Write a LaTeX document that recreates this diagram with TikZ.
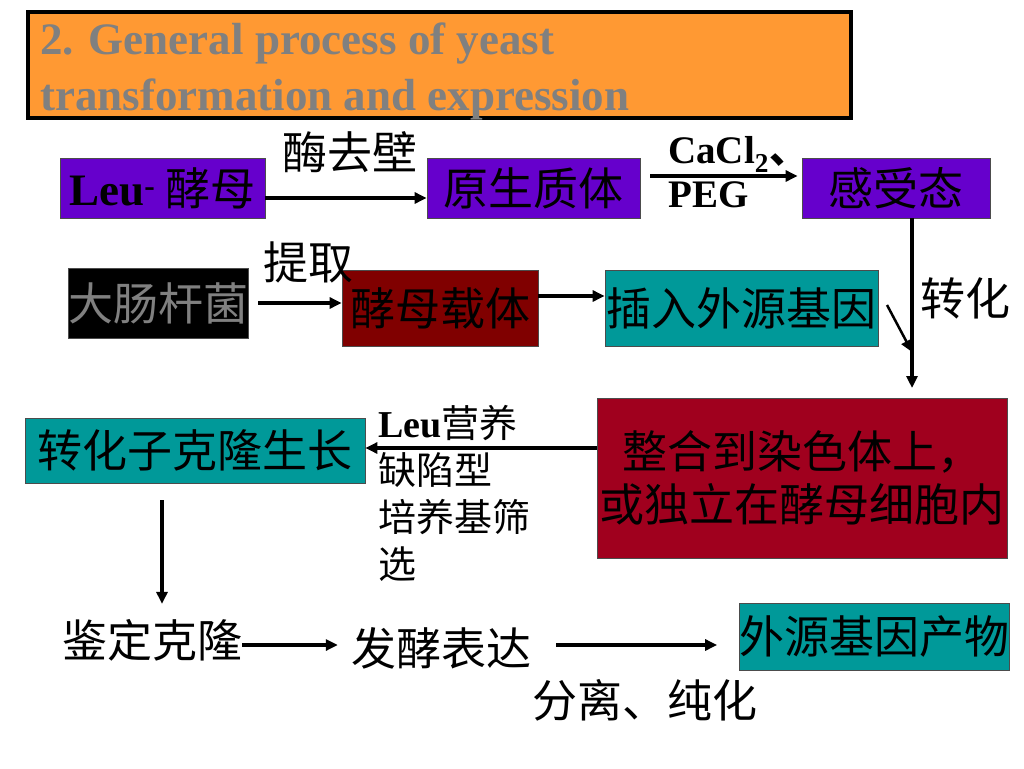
\documentclass[tikz,border=0pt]{standalone}
\usepackage{fontspec}
\setmainfont{Liberation Serif}
\newfontfamily\cjk{Noto Sans CJK SC}
\usetikzlibrary{arrows.meta}
\definecolor{vio}{HTML}{6600CC}
\definecolor{tealbox}{HTML}{009999}
\definecolor{maroonbox}{HTML}{800000}
\definecolor{crimsonbox}{HTML}{A0001E}
\definecolor{titleorange}{HTML}{FF9933}
\definecolor{titlegray}{HTML}{808080}
\tikzset{
  zh/.style={font=\cjk\fontsize{45}{53}\selectfont, inner sep=0pt},
  box/.style={zh, draw=black!70, line width=0.8pt},
  flow/.style={-{Triangle[length=12pt,width=11pt]}, line width=3.5pt},
}

\begin{document}
\begin{tikzpicture}[x=1pt,y=-1pt]
\useasboundingbox (0,0) rectangle (1024,768);
\draw[line width=4pt, fill=titleorange] (28,12) rectangle (851,118);
\node[anchor=north west, align=left, inner sep=0pt, text=titlegray, font=\bfseries\fontsize{45}{56}\selectfont] (title) at (40,23) {2. General process of yeast\\transformation and expression};
\node[box, fill=vio, minimum width=205pt, minimum height=60pt] (leu) at (162.5,188) {{\rmfamily\bfseries Leu\textsuperscript{-}} 酵母};
\node[box, fill=vio, minimum width=213pt, minimum height=60pt] (proto) at (533.5,188) {原生质体};
\node[box, fill=vio, minimum width=188pt, minimum height=60pt] (comp) at (896,188) {感受态};
\node[box, fill=black, text=titlegray, minimum width=180pt, minimum height=70pt] (ecoli) at (158,303) {大肠杆菌};
\node[box, fill=maroonbox, minimum width=196pt, minimum height=76pt] (vec) at (440,308) {酵母载体};
\node[box, fill=tealbox, minimum width=273pt, minimum height=76pt] (ins) at (741.5,308) {插入外源基因};
\node[box, fill=crimsonbox, align=center, minimum width=410pt, minimum height=160pt] (integ) at (802,478) {整合到染色体上，\\或独立在酵母细胞内};
\node[box, fill=tealbox, minimum width=340pt, minimum height=65pt] (clone) at (195,450.5) {转化子克隆生长};
\node[box, fill=tealbox, minimum width=265pt, minimum height=67pt] (prod) at (874.5,636.5) {外源基因产物};
\node[zh] (ident) at (152,640) {鉴定克隆};
\node[zh] (ferm) at (441,648) {发酵表达};
\node[zh] (enz) at (350,152) {酶去壁};
\node[anchor=base west, inner sep=0pt, font=\bfseries\fontsize{39}{44}\selectfont] (cacl) at (668,163) {CaCl\textsubscript{2}{\cjk 、}};
\node[anchor=base west, inner sep=0pt, font=\bfseries\fontsize{39}{44}\selectfont] (peg) at (668,207) {PEG};
\node[zh] (extr) at (308,262) {提取};
\node[zh] (trans) at (965,298) {转化};
\node[anchor=north west, align=left, inner sep=0pt, font=\cjk\fontsize{38}{47}\selectfont] (screen) at (378,405) {{\rmfamily\bfseries Leu}营养\\缺陷型\\培养基筛\\选};
\node[zh] (purif) at (645,700) {分离、纯化};
\coordinate (tip) at (912,388);
\coordinate (slant) at (887,305);
\draw[flow] ([yshift=-10pt]leu.east) -- ([yshift=-10pt]proto.west);
\draw[flow] ([xshift=10pt,yshift=12pt]proto.east) -- ([xshift=-4pt,yshift=12pt]comp.west);
\draw[flow] ([xshift=10pt]ecoli.east) -- (ecoli.east -| vec.west);
\draw[flow] ([yshift=12pt]vec.east) -- ([yshift=12pt]ins.west);
\draw[flow] ([xshift=16pt]comp.south) -- (tip);
\draw[flow, line width=2.5pt] (slant) -- ([yshift=36pt]tip);
\draw[flow] ([yshift=30pt]integ.west) -- ([yshift=30pt]integ.west -| clone.east);
\draw[flow] ([xshift=-33pt,yshift=-17pt]clone.south) -- ([xshift=10pt,yshift=15pt]ident.north);
\draw[flow] ([yshift=-5pt]ident.east) -- ([xshift=-13pt,yshift=-5pt]ident.east -| ferm.west);
\draw[flow] ([xshift=25pt,yshift=3pt]ferm.east) -- ([xshift=-22pt,yshift=3pt]ferm.east -| prod.west);
\end{tikzpicture}
\end{document}
